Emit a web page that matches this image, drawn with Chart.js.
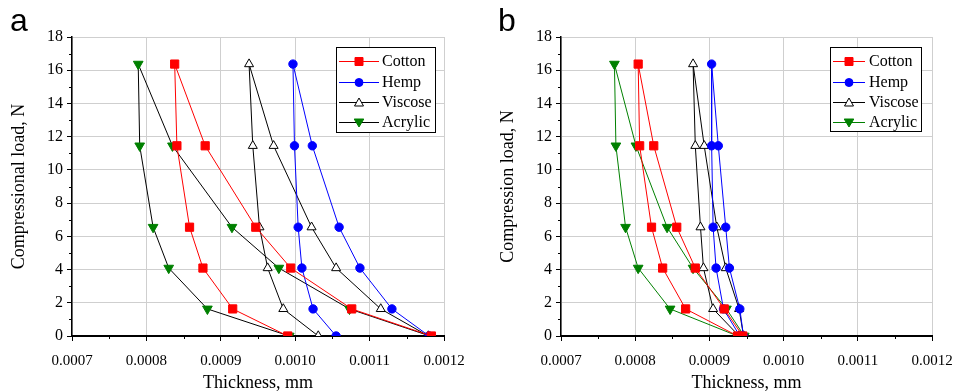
<!DOCTYPE html>
<html>
<head>
<meta charset="utf-8">
<script src="https://cdn.jsdelivr.net/npm/chart.js@4.4.1/dist/chart.umd.min.js"></script>
<style>
  body { margin: 0; background: #fff; }
  .panel { position: absolute; top: 0; width: 477px; height: 391px; }
</style>
</head>
<body>
<div class="panel" style="left:0"><canvas id="chartA"></canvas></div>
<div class="panel" style="left:477px"><canvas id="chartB"></canvas></div>
<script>
// load path: loading (thick branch) up to max, then unloading back down
const loads = [0, 1.63, 4.09, 6.55, 11.45, 16.37, 11.45, 6.55, 4.09, 1.63, 0];

// panel a, thickness (mm)
const cottonA  = [0.001183, 0.001076, 0.000994, 0.000947, 0.000879, 0.000838, 0.000841, 0.000858, 0.000876, 0.000916, 0.000990];
const hempA    = [0.001180, 0.001130, 0.001087, 0.001059, 0.001023, 0.000997, 0.000999, 0.001004, 0.001009, 0.001024, 0.001055];
const viscoseA = [0.001179, 0.001115, 0.001055, 0.001022, 0.000971, 0.000938, 0.000943, 0.000952, 0.000963, 0.000984, 0.001031];
const acrylicA = [0.001181, 0.001073, 0.000978, 0.000915, 0.000835, 0.000789, 0.000791, 0.000809, 0.000830, 0.000882, 0.000992];

// panel b, thickness (mm)
const cottonB  = [0.000945, 0.000920, 0.000881, 0.000856, 0.000825, 0.000804, 0.000806, 0.000822, 0.000837, 0.000868, 0.000938];
const hempB    = [0.000946, 0.000941, 0.000927, 0.000922, 0.000912, 0.000903, 0.000903, 0.000905, 0.000909, 0.000919, 0.000941];
const viscoseB = [0.000946, 0.000940, 0.000922, 0.000910, 0.000893, 0.000878, 0.000881, 0.000888, 0.000892, 0.000905, 0.000940];
const acrylicB = [0.000947, 0.000923, 0.000878, 0.000843, 0.000801, 0.000772, 0.000774, 0.000787, 0.000804, 0.000847, 0.000938];

const seriesNames = ["Cotton", "Hemp", "Viscose", "Acrylic"];
const xTickLabels = ["0.0007", "0.0008", "0.0009", "0.0010", "0.0011", "0.0012"];
const yTickLabels = ["0", "2", "4", "6", "8", "10", "12", "14", "16", "18"];

const serif = "Liberation Serif";

function pts(xs) {
  return xs.map((v, i) => ({ x: v, y: loads[i] }));
}

function makeSets(cols, acrylicLine) {
  const styles = [
    { color: "#ff0000", line: "#ff0000", point: "rect", r: 5.8, fill: "#ff0000", rot: 0 },
    { color: "#0000ff", line: "#0000ff", point: "circle", r: 4.2, fill: "#0000ff", rot: 0 },
    { color: "#000000", line: "#000000", point: "triangle", r: 5.2, fill: "#ffffff", rot: 0 },
    { color: "#008000", line: acrylicLine, point: "triangle", r: 5.6, fill: "#008000", rot: 180 },
  ];
  return cols.map((xs, i) => ({
    label: seriesNames[i],
    data: pts(xs),
    showLine: true,
    borderColor: styles[i].line,
    borderWidth: 1,
    pointStyle: styles[i].point,
    pointRadius: styles[i].r,
    pointRotation: styles[i].rot,
    pointBackgroundColor: styles[i].fill,
    pointBorderColor: styles[i].color,
    pointBorderWidth: 1,
    markerColor: styles[i].color,
    markerFill: styles[i].fill,
  }));
}

function drawMarker(ctx, ds, x, y) {
  ctx.save();
  ctx.fillStyle = ds.markerFill;
  ctx.strokeStyle = ds.markerColor;
  ctx.lineWidth = 1;
  ctx.beginPath();
  if (ds.pointStyle === "rect") {
    ctx.rect(x - 4, y - 4, 8, 8);
  } else if (ds.pointStyle === "circle") {
    ctx.arc(x, y, 4, 0, Math.PI * 2);
  } else if (ds.pointRotation === 180) {
    ctx.moveTo(x - 4.8, y - 3.5); ctx.lineTo(x + 4.8, y - 3.5); ctx.lineTo(x, y + 4.5); ctx.closePath();
  } else {
    ctx.moveTo(x - 4.5, y + 3.5); ctx.lineTo(x + 4.5, y + 3.5); ctx.lineTo(x, y - 4.5); ctx.closePath();
  }
  ctx.fill();
  ctx.stroke();
  ctx.restore();
}

// legend box inside the plot
const boxLegend = {
  id: "boxLegend",
  afterDraw(chart, args, o) {
    const ctx = chart.ctx;
    ctx.save();
    ctx.fillStyle = "#fff";
    ctx.fillRect(o.x, o.y, o.w, o.h);
    ctx.strokeStyle = "#000";
    ctx.lineWidth = 1;
    ctx.strokeRect(o.x + 0.5, o.y + 0.5, o.w, o.h);
    chart.data.datasets.forEach((ds, i) => {
      const ry = o.rows[i];
      ctx.strokeStyle = ds.borderColor;
      ctx.lineWidth = 1;
      ctx.beginPath();
      ctx.moveTo(o.lx1, ry + 0.5);
      ctx.lineTo(o.lx2, ry + 0.5);
      ctx.stroke();
      drawMarker(ctx, ds, (o.lx1 + o.lx2) / 2, ry + 0.5);
      ctx.fillStyle = "#000";
      ctx.font = "16px " + serif;
      ctx.textBaseline = "middle";
      ctx.fillText(ds.label, o.tx, ry + 1);
    });
    ctx.restore();
  }
};

// short unlabeled minor ticks and panel letter
const extras = {
  id: "extras",
  afterDraw(chart, args, o) {
    const { ctx, scales: { x, y } } = chart;
    ctx.save();
    ctx.strokeStyle = "#000";
    ctx.lineWidth = 1;
    ctx.beginPath();
    for (let v = 1; v < 18; v += 2) {
      const py = Math.round(y.getPixelForValue(v)) + 0.5;
      ctx.moveTo(y.right - 3, py);
      ctx.lineTo(y.right, py);
    }
    for (let i = 0; i < 5; i++) {
      const px = Math.round(x.getPixelForValue(0.00075 + i * 0.0001)) + 0.5;
      ctx.moveTo(px, x.top);
      ctx.lineTo(px, x.top + 3);
    }
    ctx.stroke();
    ctx.fillStyle = "#000";
    ctx.font = "32px 'Liberation Sans', Arial, sans-serif";
    ctx.textBaseline = "alphabetic";
    ctx.fillText(o.letter, o.lx, o.ly);
    ctx.restore();
  }
};

function makeChart(id, cols, acrylicLine, yTitle, yWidth, yTitlePad, legendOpts, letter, letterX, padRight) {
  return new Chart(document.getElementById(id), {
    type: "scatter",
    data: { datasets: makeSets(cols, acrylicLine) },
    options: {
      responsive: true,
      maintainAspectRatio: false,
      animation: false,
      events: [],
      layout: { padding: { top: 37, right: padRight, bottom: -3, left: 0 } },
      scales: {
        x: {
          type: "linear",
          min: 0.0007,
          max: 0.0012,
          ticks: {
            stepSize: 0.0001,
            autoSkip: false,
            maxRotation: 0,
            padding: 11,
            color: "#000",
            font: { family: serif, size: 15 },
            callback: (v, i) => xTickLabels[i],
          },
          grid: { color: "#cfcfcf", lineWidth: 1, tickColor: "#000", tickLength: 5 },
          border: { color: "#000", width: 2 },
          title: { display: true, text: "Thickness, mm", color: "#000", font: { family: serif, size: 18 }, padding: { top: 2, bottom: 0 } },
          afterFit: (s) => { s.height = 58; s.paddingLeft = 0; s.paddingRight = 0; },
        },
        y: {
          type: "linear",
          min: 0,
          max: 18,
          ticks: {
            stepSize: 2,
            padding: 4,
            color: "#000",
            font: { family: serif, size: 16 },
            callback: (v, i) => yTickLabels[i],
          },
          grid: { color: "#cfcfcf", lineWidth: 1, tickColor: "#000", tickLength: 5 },
          border: { color: "#000", width: 1.5 },
          title: { display: true, text: yTitle, color: "#000", font: { family: serif, size: 18 }, padding: yTitlePad },
          afterFit: (s) => { s.width = yWidth; },
        },
      },
      plugins: {
        legend: { display: false },
        tooltip: { enabled: false },
        boxLegend: legendOpts,
        extras: { letter: letter, lx: letterX, ly: 31 },
      },
    },
    plugins: [boxLegend, extras],
  });
}

makeChart("chartA", [cottonA, hempA, viscoseA, acrylicA], "#000000",
  "Compressional load, N", 72, { top: 8, bottom: 0 },
  { x: 336, y: 47, w: 99, h: 85, lx1: 339, lx2: 379, tx: 382, rows: [61, 82, 102, 122] },
  "a", 10, 33);

makeChart("chartB", [cottonB, hempB, viscoseB, acrylicB], "#008000",
  "Compression load, N", 84, { top: 20, bottom: 0 },
  { x: 353, y: 47, w: 91, h: 84, lx1: 356, lx2: 388, tx: 392, rows: [61, 82, 102, 122] },
  "b", 21, 22);
</script>
</body>
</html>
